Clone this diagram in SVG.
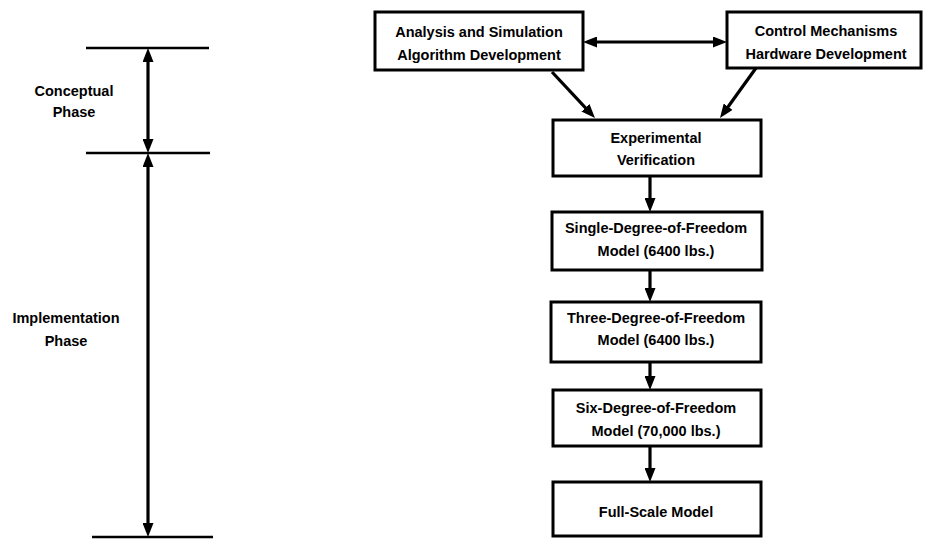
<svg xmlns="http://www.w3.org/2000/svg" width="927" height="539" viewBox="0 0 927 539">
<defs>
<style>
.box{fill:#fff;stroke:#000;stroke-width:3}
.t{font-family:"Liberation Sans",Arial,sans-serif;font-size:14.5px;font-weight:bold;fill:#000;text-anchor:middle}
.c{stroke:#000;stroke-width:3.2;fill:none}
.tick{stroke:#000;stroke-width:2.5}
</style>
<marker id="ah" viewBox="0 0 14 11" refX="9" refY="5.5" markerWidth="14" markerHeight="11" markerUnits="userSpaceOnUse" orient="auto-start-reverse">
<path d="M0,0 L14,5.5 L0,11 z" fill="#000"/>
</marker>
</defs>
<rect width="927" height="539" fill="#fff"/>

<g id="phase-scale">
<line class="tick" x1="86" y1="48" x2="209" y2="48"/>
<line class="tick" x1="86" y1="153" x2="210" y2="153"/>
<line class="tick" x1="92" y1="537" x2="213" y2="537"/>
<text class="t" x="74" y="96">Conceptual</text>
<text class="t" x="74" y="117">Phase</text>
<text class="t" x="66" y="323">Implementation</text>
<text class="t" x="66" y="346">Phase</text>
</g>

<g id="n-analysis">
<rect class="box" x="375" y="12" width="208" height="58"/>
<text class="t" x="479" y="37">Analysis and Simulation</text>
<text class="t" x="479" y="60">Algorithm Development</text>
</g>
<g id="n-control">
<rect class="box" x="727" y="12" width="194" height="56"/>
<text class="t" x="826" y="36">Control Mechanisms</text>
<text class="t" x="826" y="59">Hardware Development</text>
</g>
<g id="n-experimental">
<rect class="box" x="553" y="120" width="208" height="56"/>
<text class="t" x="656" y="143">Experimental</text>
<text class="t" x="656" y="165">Verification</text>
</g>
<g id="n-single">
<rect class="box" x="552" y="212" width="210" height="58"/>
<text class="t" x="656" y="233">Single-Degree-of-Freedom</text>
<text class="t" x="656" y="256">Model (6400 lbs.)</text>
</g>
<g id="n-three">
<rect class="box" x="551" y="302" width="210" height="60"/>
<text class="t" x="656" y="323">Three-Degree-of-Freedom</text>
<text class="t" x="656" y="345">Model (6400 lbs.)</text>
</g>
<g id="n-six">
<rect class="box" x="553" y="390" width="208" height="56"/>
<text class="t" x="656" y="413">Six-Degree-of-Freedom</text>
<text class="t" x="656" y="436">Model (70,000 lbs.)</text>
</g>
<g id="n-full">
<rect class="box" x="553" y="482" width="208" height="54"/>
<text class="t" x="656" y="517">Full-Scale Model</text>
</g>

<g id="connectors">
<line class="c" x1="148" y1="53" x2="148" y2="148" marker-start="url(#ah)" marker-end="url(#ah)"/>
<line class="c" x1="148" y1="158" x2="148" y2="532" marker-start="url(#ah)" marker-end="url(#ah)"/>
<line class="c" x1="588" y1="42" x2="722" y2="42" marker-start="url(#ah)" marker-end="url(#ah)"/>
<line class="c" x1="552" y1="72" x2="591.6" y2="114.4" marker-end="url(#ah)"/>
<line class="c" x1="756" y1="68" x2="722.9" y2="114" marker-end="url(#ah)"/>
<line class="c" x1="650" y1="176" x2="650" y2="207" marker-end="url(#ah)"/>
<line class="c" x1="650" y1="270" x2="650" y2="297" marker-end="url(#ah)"/>
<line class="c" x1="650" y1="362" x2="650" y2="385" marker-end="url(#ah)"/>
<line class="c" x1="650" y1="446" x2="650" y2="477" marker-end="url(#ah)"/>
</g>
</svg>
